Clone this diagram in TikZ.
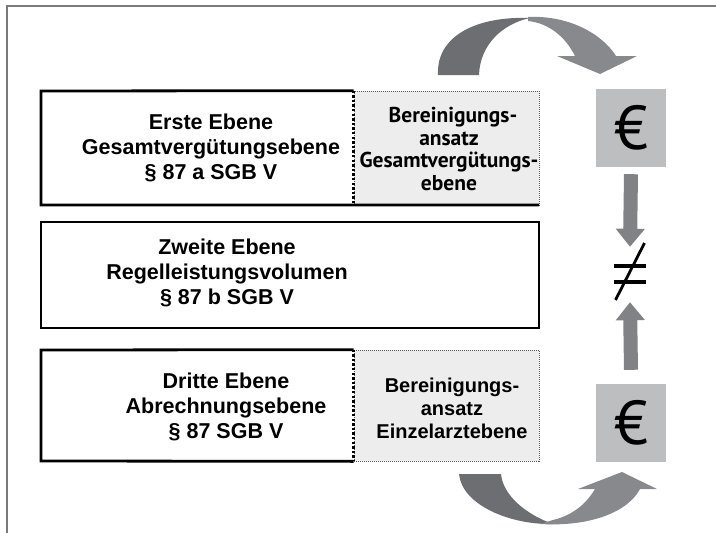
\documentclass[tikz,border=0pt]{standalone}
\usepackage{fontspec}
\setmainfont{Liberation Sans}
\newfontfamily\myr{PT Sans}
\usetikzlibrary{arrows.meta,calc}
\definecolor{eurogray}{HTML}{BCBEC0}
\definecolor{arrgray}{HTML}{808285}
\definecolor{arcdark}{HTML}{6D6E71}
\definecolor{arclight}{HTML}{88898C}
\definecolor{panelgray}{HTML}{EDEDED}
\definecolor{framegray}{HTML}{7A7A7A}
\begin{document}
\begin{tikzpicture}[x=1pt,y=-1pt,
  frameline/.style={draw=framegray,line width=1.5pt},
  boxline/.style={draw=black,line width=2.8pt},
  divider/.style={draw=black,line width=2.4pt,dash pattern=on 2.4pt off 2.2pt},
  panel/.style={fill=panelgray,draw=black!65,line width=0.7pt,dash pattern=on 1pt off 1pt,inner sep=0pt},
  area/.style={inner sep=0pt,outer sep=0pt},
  maintext/.style={align=center,font=\fontsize{21.5}{25}\selectfont\bfseries,inner sep=0pt},
  paneltextA/.style={align=center,inner sep=0pt,font=\myr\bfseries\fontsize{21.5}{22.7}\selectfont},
  paneltextB/.style={align=center,inner sep=0pt,font=\bfseries\fontsize{20}{23}\selectfont},
  eurobox/.style={fill=eurogray,minimum width=70pt,minimum height=78pt,inner sep=0pt,font=\myr\fontsize{62}{62}\selectfont},
  blockarrow/.style={draw=arrgray,line width=14pt,-{Triangle[width=28pt,length=18pt]}},
  neqline/.style={draw=black,line width=3.6pt},
  neqslash/.style={draw=black,line width=2.8pt}
]
\useasboundingbox (0,0) rectangle (716,533);
% frame
\draw[frameline] (7,533) -- (7,6) -- (716,6);

% box 1
\node[area,minimum width=498pt,minimum height=114pt] (b1) at (290,148) {};
\node[panel,minimum width=185pt,minimum height=114pt] (g1) at (446.5,148) {};
\draw[boxline] (g1.north west) -- (b1.north west) -- (b1.south west) -- (b1.south east);
\draw[divider] (g1.north west) -- (g1.south west);
\node[maintext] (t1) at (211,148) {Erste Ebene\\Gesamtvergütungsebene\\§ 87 a SGB V};
\node[paneltextA] (p1) at (449,149) {\hspace*{8pt}Bereinigungs-\\ansatz\\Gesamtvergütungs-\\ebene};

% box 2
\node[area,boxline,minimum width=498pt,minimum height=106pt] (b2) at (290,275) {};
\node[maintext] (t2) at (227,273) {Zweite Ebene\\Regelleistungsvolumen\\§ 87 b SGB V};

% box 3
\node[area,minimum width=498pt,minimum height=111pt] (b3) at (290,405.5) {};
\node[panel,minimum width=185pt,minimum height=111pt] (g3) at (446.5,405.5) {};
\draw[boxline] (g3.north west) -- (b3.north west) -- (b3.south west) -- (g3.south west);
\draw[divider] (g3.north west) -- (g3.south west);
\node[maintext] (t3) at (226,407) {Dritte Ebene\\Abrechnungsebene\\§ 87 SGB V};
\node[paneltextB] (p3) at (452,408) {Bereinigungs-\\ansatz\\Einzelarztebene};

% euro boxes
\node[eurobox] (e1) at (631,128) {€};
\node[eurobox] (e2) at (631,423) {€};

% not equal
\node[inner sep=0pt,minimum width=32pt,minimum height=57pt] (ne) at (630,271.5) {};
\draw[neqline] ($(ne.center)+(-16,-5.5)$) -- ($(ne.center)+(16,-5.5)$);
\draw[neqline] ($(ne.center)+(-16,10.5)$) -- ($(ne.center)+(16,10.5)$);
\draw[neqslash] ($(ne.center)+(-14.5,28.5)$) -- ($(ne.center)+(14.5,-28.5)$);

% straight arrows
\draw[blockarrow] ($(e1.south)+(0,7)$) -- ($(ne.north)+(0,4)$);
\draw[blockarrow] ($(e2.north)+(0,-14)$) -- ($(ne.south)+(0,2)$);

% top curved arrow
\fill[arcdark] (438,75) .. controls (436,35) and (478,16) .. (530,18)
  .. controls (502,24) and (480,45) .. (479,75) -- cycle;
\fill[arclight] (528,17) .. controls (570,15) and (603,35) .. (616,56)
  -- (575,56) .. controls (565,36) and (548,23) .. (528,21) -- cycle;
\fill[arclight] (557,56) -- (637,56) -- (600,74) -- cycle;

% bottom curved arrow
\fill[arcdark] (459,474) .. controls (462,505) and (510,525) .. (553,524)
  .. controls (525,514) and (503,495) .. (501,474) -- cycle;
\fill[arclight] (540,524) .. controls (590,527) and (628,512) .. (640,489)
  -- (595,489) .. controls (585,506) and (570,516) .. (553,520) -- cycle;
\fill[arclight] (578,489) -- (657,489) -- (622,472) -- cycle;
\end{tikzpicture}
\end{document}
